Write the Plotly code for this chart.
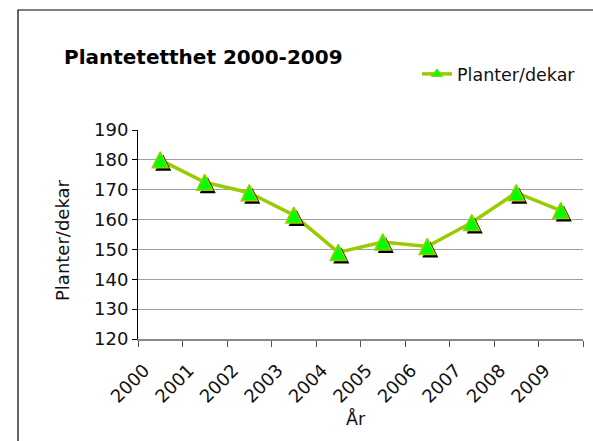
import plotly.graph_objects as go

years = ["2000", "2001", "2002", "2003", "2004", "2005", "2006", "2007", "2008", "2009"]
planter = [180, 172.5, 169, 161.5, 149, 152.5, 151, 159, 169, 163]
y_ticks = [120, 130, 140, 150, 160, 170, 180, 190]

W, H = 593, 441
L, R, T, B = 138, 10, 130, 102
pw = W - L - R
ph = H - T - B

def px(x):
    return (x - L) / pw

def py(y):
    return (H - B - y) / ph

font = "DejaVu Sans, Verdana, sans-serif"
line_col = "#99CC00"

ux = 10 / pw   # categories per pixel
uy = 70 / ph   # y units per pixel
MS = 16        # marker size (arrow-up: width = height = MS)
half = MS / 2
NB = "\u00a0"

fig = go.Figure()
# line (base subplot), small markers only visible in legend
fig.add_trace(go.Scatter(
    x=years, y=planter, xaxis="x", yaxis="y", mode="lines+markers",
    name="Planter/dekar",
    line=dict(color=line_col, width=3.5),
    marker=dict(symbol="triangle-up", size=10, color="#00FF00",
                line=dict(color=line_col, width=1)),
    hoverinfo="skip"))
# shadow markers
fig.add_trace(go.Scatter(
    x=years, y=planter, xaxis="x2", yaxis="y2", mode="markers",
    marker=dict(symbol="arrow-up", size=MS, color="black", line=dict(width=0)),
    showlegend=False, hoverinfo="skip"))
# main markers
fig.add_trace(go.Scatter(
    x=years, y=planter, xaxis="x3", yaxis="y3", mode="markers",
    marker=dict(symbol="arrow-up", size=MS, color="#00FF00",
                line=dict(color=line_col, width=1.5)),
    showlegend=False))

axfont = dict(family=font, size=18, color="#111111")
bx0, by0 = px(18), py(10)
fig.update_layout(
    width=W, height=H,
    margin=dict(l=L, r=R, t=T, b=B, autoexpand=False),
    paper_bgcolor="white", plot_bgcolor="white",
    font=dict(family=font, size=18, color="#111111"),
    xaxis=dict(type="category", categoryorder="array", categoryarray=years,
               range=[-0.5, 9.5], tickson="boundaries", ticks="outside", ticklen=6,
               tickcolor="#555555", showline=True, linecolor="#888888", linewidth=1.5,
               showgrid=False, zeroline=False, tickangle=-45, tickfont=axfont,
               ticklabelstandoff=12, ticklabelshift=-16, automargin=False),
    yaxis=dict(range=[120, 190], tickvals=y_ticks, ticks="outside", ticklen=5,
               tickcolor="black", showline=True, linecolor="black", linewidth=1,
               showgrid=True, gridcolor="#A0A0A0", gridwidth=1, zeroline=False,
               tickfont=axfont, ticksuffix=NB * 2, automargin=False),
    xaxis2=dict(type="category", categoryorder="array", categoryarray=years,
                range=[-0.5 - 3 * ux, 9.5 - 3 * ux], overlaying="x", visible=False),
    yaxis2=dict(range=[120 - (half - 3) * uy, 190 - (half - 3) * uy],
                overlaying="y", visible=False),
    xaxis3=dict(type="category", categoryorder="array", categoryarray=years,
                range=[-0.5, 9.5], overlaying="x", visible=False),
    yaxis3=dict(range=[120 - half * uy, 190 - half * uy], overlaying="y", visible=False),
    legend=dict(x=px(417), y=py(74), xanchor="left", yanchor="middle",
                font=dict(family=font, size=17.5, color="#111111"),
                bgcolor="rgba(0,0,0,0)"),
    shapes=[dict(type="path", xref="paper", yref="paper",
                 path=f"M {bx0} {py(520)} L {bx0} {by0} L {px(700)} {by0}",
                 line=dict(color="black", width=1.2), layer="below")],
    annotations=[
        dict(text="<b>Plantetetthet 2000-2009</b>", xref="paper", yref="paper",
             x=px(62), y=py(57), xanchor="left", yanchor="middle", showarrow=False,
             font=dict(family=font, size=20, color="black")),
        dict(text="Planter/dekar", xref="paper", yref="paper", x=px(62), y=py(240),
             xanchor="center", yanchor="middle", textangle=-90, showarrow=False,
             font=dict(family=font, size=18, color="#111111")),
        dict(text="År", xref="paper", yref="paper", x=px(356), y=py(418),
             xanchor="center", yanchor="middle", showarrow=False,
             font=dict(family=font, size=17.5, color="#111111")),
    ],
)

fig.write_html(
    "out.html",
    config={"displayModeBar": False},
    post_script="document.body.style.margin='0';document.body.style.overflow='hidden';",
)
